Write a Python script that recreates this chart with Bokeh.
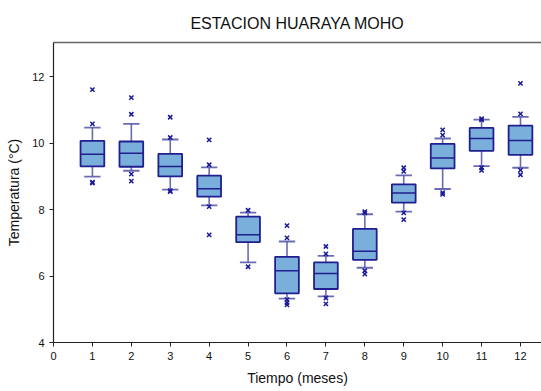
from bokeh.plotting import figure
from bokeh.models import FixedTicker, LinearAxis, Range1d, ColumnDataSource
from bokeh.embed import file_html
from bokeh.resources import INLINE

months = [1, 2, 3, 4, 5, 6, 7, 8, 9, 10, 11, 12]
q1 = [9.30, 9.29, 9.00, 8.39, 7.02, 5.48, 5.61, 6.49, 8.21, 9.24, 9.77, 9.65]
median = [9.67, 9.70, 9.30, 8.63, 7.24, 6.16, 6.08, 6.75, 8.50, 9.55, 10.14, 10.08]
q3 = [10.07, 10.05, 9.68, 9.02, 7.79, 6.58, 6.41, 7.42, 8.76, 9.98, 10.46, 10.53]
whisker_low = [8.99, 9.17, 8.60, 8.13, 6.41, 5.32, 5.39, 6.25, 7.94, 8.62, 9.31, 9.26]
whisker_high = [10.47, 10.58, 10.11, 9.27, 7.91, 7.04, 6.61, 7.86, 9.03, 10.14, 10.71, 10.79]

outlier_month = [1, 1, 1, 1,
                 2, 2, 2, 2,
                 3, 3, 3, 3,
                 4, 4, 4, 4,
                 5, 5,
                 6, 6, 6, 6, 6,
                 7, 7, 7, 7,
                 8, 8, 8, 8,
                 9, 9, 9, 9,
                 10, 10, 10, 10,
                 11, 11, 11, 11,
                 12, 12, 12, 12]
outlier_temp = [11.61, 10.58, 8.83, 8.80,
                11.37, 10.87, 9.07, 8.86,
                10.78, 10.17, 8.57, 8.54,
                10.10, 9.35, 8.09, 7.24,
                7.98, 6.28,
                7.52, 7.15, 5.29, 5.20, 5.13,
                6.89, 6.67, 5.34, 5.16,
                7.94, 7.90, 6.16, 6.06,
                9.26, 9.15, 7.90, 7.70,
                10.40, 10.24, 8.51, 8.46,
                10.74, 10.70, 9.26, 9.18,
                11.80, 10.88, 9.19, 9.05]

x_ticks = list(range(0, 13))
y_ticks = [4, 6, 8, 10, 12]

src = ColumnDataSource(dict(x=months, q1=q1, med=median, q3=q3, lo=whisker_low, hi=whisker_high,
                            cl=[m - 0.21 for m in months], cr=[m + 0.21 for m in months],
                            ml=[m - 0.305 for m in months], mr=[m + 0.305 for m in months]))

p = figure(width=541, height=391, output_backend="svg", toolbar_location=None,
           x_range=Range1d(0, 12.54), y_range=Range1d(4, 13.03),
           min_border_left=53, min_border_right=0, min_border_top=42, min_border_bottom=49)

p.title.text = "ESTACION HUARAYA MOHO"
p.title.align = "center"
p.title.text_font = "Liberation Sans"
p.title.text_font_size = "16px"
p.title.text_font_style = "normal"
p.title.text_color = "#111111"
p.title.standoff = 22

p.outline_line_color = None
p.xgrid.visible = False
p.ygrid.visible = False
p.background_fill_color = "white"
p.border_fill_color = "white"

wcol = "#5b5baa"
# whiskers
p.segment(x0="x", y0="q3", x1="x", y1="hi", source=src, line_color=wcol, line_width=1.6, line_alpha=0.9)
p.segment(x0="x", y0="lo", x1="x", y1="q1", source=src, line_color=wcol, line_width=1.6, line_alpha=0.9)
p.segment(x0="cl", y0="hi", x1="cr", y1="hi", source=src, line_color=wcol, line_width=1.8, line_alpha=0.9)
p.segment(x0="cl", y0="lo", x1="cr", y1="lo", source=src, line_color=wcol, line_width=1.8, line_alpha=0.9)
# boxes
p.vbar(x="x", width=0.61, bottom="q1", top="q3", source=src, fill_color="#7aafdb",
       line_color="#1f1f8f", line_width=1.8)
p.segment(x0="ml", y0="med", x1="mr", y1="med", source=src, line_color="#1f1f8f", line_width=1.5)
# outliers
p.scatter(outlier_month, outlier_temp, marker="x", size=6, line_color="#1a1a99", line_width=1.5)

for ax in (p.xaxis[0], p.yaxis[0]):
    ax.axis_line_color = "#222222"
    ax.axis_line_width = 1.2
    ax.major_tick_line_color = "#222222"
    ax.major_tick_out = 4
    ax.major_tick_in = 0
    ax.minor_tick_line_color = None
    ax.major_label_text_font = "Liberation Sans"
    ax.major_label_text_font_size = "11px"
    ax.major_label_text_color = "#111111"
    ax.axis_label_text_font = "Liberation Sans"
    ax.axis_label_text_font_size = "14px"
    ax.axis_label_text_font_style = "normal"
    ax.axis_label_text_color = "#111111"

p.xaxis.ticker = FixedTicker(ticks=x_ticks)
p.yaxis.ticker = FixedTicker(ticks=y_ticks)
p.xaxis.axis_label = "Tiempo (meses)"
p.yaxis.axis_label = "Temperatura (°C)"
p.xaxis.major_label_standoff = 5
p.yaxis.major_label_standoff = 5
p.xaxis.axis_label_standoff = 7
p.yaxis.axis_label_standoff = 7

top = LinearAxis(ticker=FixedTicker(ticks=[]), axis_line_color="#666666", axis_line_width=1.5,
                 major_tick_line_color=None, minor_tick_line_color=None,
                 major_label_text_font_size="0px")
p.add_layout(top, "above")

open("out.html", "w").write(file_html(p, INLINE))
